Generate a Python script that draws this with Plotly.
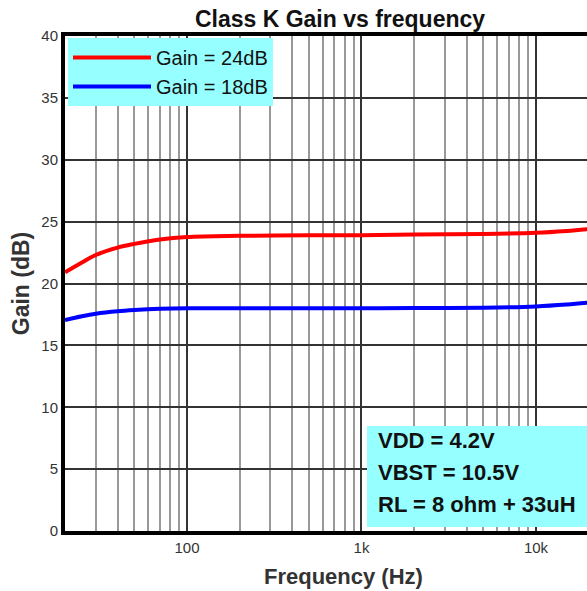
import math
import plotly.graph_objects as go

# ---- data ----
freq_hz = [20, 25, 30, 40, 50, 70, 100, 200, 500, 1000, 2000, 5000, 10000, 15000, 20000]
gain_24db = [20.9, 21.7, 22.3, 22.9, 23.2, 23.55, 23.75, 23.85, 23.9, 23.9, 23.95, 24.0, 24.1, 24.25, 24.4]
gain_18db = [17.05, 17.35, 17.55, 17.75, 17.85, 17.95, 18.0, 18.0, 18.0, 18.0, 18.02, 18.05, 18.15, 18.3, 18.45]
series_names = ["Gain = 24dB", "Gain = 18dB"]
x_tick_vals = [100, 1000, 10000]
x_tick_text = ["100", "1k", "10k"]
y_tick_vals = [0, 5, 10, 15, 20, 25, 30, 35, 40]
minor_vals = [m * d for d in (10, 100, 1000) for m in range(2, 10)]
note_lines = ["VDD = 4.2V", "VBST = 10.5V", "RL = 8 ohm + 33uH"]

FONT = "Arial, Liberation Sans, sans-serif"
CYAN = "#96FFFF"

fig = go.Figure()
fig.add_trace(go.Scatter(x=freq_hz, y=gain_24db, name=series_names[0], mode="lines",
                         line=dict(color="#FF0000", width=4, shape="spline")))
fig.add_trace(go.Scatter(x=freq_hz, y=gain_18db, name=series_names[1], mode="lines",
                         line=dict(color="#0000FF", width=4, shape="spline")))

W, H = 587, 591
L, R, T, B = 65, 0, 36, 60
pw = W - L - R
ph = H - T - B

def px_x(p):
    return (p - L) / pw

def px_y(p):
    return (H - B - p) / ph

fig.update_layout(
    width=W, height=H,
    margin=dict(l=L, r=R, t=T, b=B),
    plot_bgcolor="white", paper_bgcolor="white",
    font=dict(family=FONT, color="#333333"),
    title=dict(text="<b>Class K Gain vs frequency</b>", x=340 / W, xref="container", xanchor="center",
               y=1 - 19 / H, yref="container", yanchor="middle",
               font=dict(size=23, color="#111111", family=FONT)),
    showlegend=True,
    legend=dict(x=px_x(68), y=px_y(38), xanchor="left", yanchor="top",
                bgcolor=CYAN, borderwidth=0, font=dict(size=20, color="#111111"),
                itemwidth=78, tracegroupgap=0),
)

fig.update_xaxes(type="log", range=[math.log10(20), math.log10(19600)],
                 tickvals=x_tick_vals, ticktext=x_tick_text,
                 tickfont=dict(size=15, color="#333333"),
                 showline=True, linecolor="black", linewidth=4, mirror=True,
                 showgrid=True, gridcolor="#333333", gridwidth=1.5,
                 ticks="", zeroline=False,
                 minor=dict(tickvals=minor_vals, showgrid=True, gridcolor="#999999", gridwidth=1.5, ticks=""))
fig.update_yaxes(range=[0, 40], tickvals=y_tick_vals,
                 tickfont=dict(size=15, color="#333333"),
                 showline=True, linecolor="black", linewidth=4, mirror=False,
                 showgrid=True, gridcolor="#333333", gridwidth=1.5,
                 ticks="", zeroline=False,
                 title=dict(text="<b>Gain (dB)</b>", font=dict(size=23, color="#333333"), standoff=6))

# x-axis title
fig.add_annotation(text="<b>Frequency (Hz)</b>", xref="paper", yref="paper",
                   x=px_x(343), y=px_y(576), xanchor="center", yanchor="middle",
                   showarrow=False, font=dict(size=22, color="#333333"))

# condition box
fig.add_shape(type="rect", xref="paper", yref="paper",
              x0=px_x(367), x1=1.0, y0=px_y(527), y1=px_y(426),
              fillcolor=CYAN, line=dict(width=0), layer="above")
for txt, yy in zip(note_lines, [441, 472, 504]):
    fig.add_annotation(text=f"<b>{txt}</b>", xref="paper", yref="paper",
                       x=px_x(376), y=px_y(yy), xanchor="left", yanchor="middle",
                       showarrow=False, font=dict(size=22, color="#111111"))

fig.write_html("out.html", config={"displayModeBar": False},
               post_script="document.body.style.margin='0';document.body.style.overflow='hidden';")
